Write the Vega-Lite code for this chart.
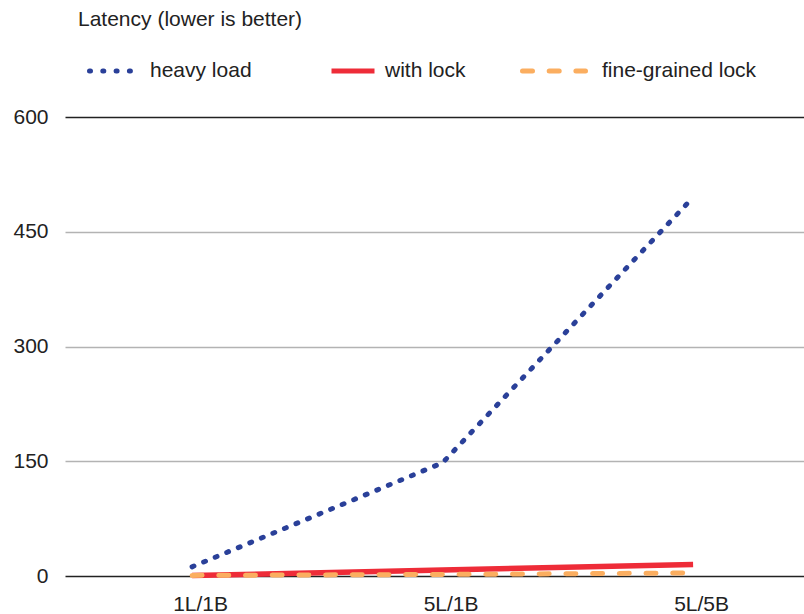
{
  "$schema": "https://vega.github.io/schema/vega-lite/v6.json",
  "width": 739,
  "height": 459,
  "autosize": {"type": "none"},
  "padding": {"left": 65, "top": 117, "right": 0, "bottom": 38},
  "background": "white",
  "title": {"text": "Latency (lower is better)", "anchor": "start", "frame": "group", "dx": 13, "offset": 7, "font": "Liberation Sans", "fontSize": 21, "fontWeight": "normal", "color": "#222"},
  "config": {"view": {"stroke": null}, "font": "Liberation Sans"},
  "data": {"values": [
    {"series": "heavy load", "cat": "1L/1B", "latency": 12},
    {"series": "heavy load", "cat": "5L/1B", "latency": 148},
    {"series": "heavy load", "cat": "5L/5B", "latency": 495},
    {"series": "with lock", "cat": "1L/1B", "latency": 0.5},
    {"series": "with lock", "cat": "5L/1B", "latency": 8},
    {"series": "with lock", "cat": "5L/5B", "latency": 15},
    {"series": "fine-grained lock", "cat": "1L/1B", "latency": 0.8},
    {"series": "fine-grained lock", "cat": "5L/1B", "latency": 2},
    {"series": "fine-grained lock", "cat": "5L/5B", "latency": 4}
  ]},
  "encoding": {
    "x": {"field": "cat", "type": "ordinal", "sort": null,
      "scale": {"type": "point", "padding": 0.475, "align": 0.534},
      "axis": {"title": null, "domain": false, "ticks": false, "grid": false, "labelAngle": 0, "labelPadding": 17, "labelOffset": 8, "labelFontSize": 21, "labelColor": "#222", "labelFont": "Liberation Sans"}},
    "y": {"field": "latency", "type": "quantitative",
      "scale": {"domain": [0, 600], "nice": false, "zero": true},
      "axis": {"title": null, "values": [0, 150, 300, 450, 600], "domain": false, "ticks": false, "labelPadding": 17, "labelFontSize": 21, "labelColor": "#222", "labelFont": "Liberation Sans",
        "gridColor": {"condition": {"test": "datum.value === 0 || datum.value === 600", "value": "#222"}, "value": "#b3b3b3"}, "gridWidth": 1.3}}
  },
  "layer": [
    {
      "transform": [{"filter": "datum.series === 'with lock'"}],
      "mark": {"type": "line", "strokeWidth": 5.5},
      "encoding": {"color": {"field": "series", "type": "nominal", "scale": {"domain": ["with lock"], "range": ["#EE2C38"]},
        "legend": {"orient": "none", "legendX": 264, "legendY": -70, "title": null, "symbolType": "stroke", "symbolSize": 1849, "symbolStrokeWidth": 5, "labelFontSize": 21, "labelColor": "#222", "labelFont": "Liberation Sans", "labelOffset": 8}}}
    },
    {
      "transform": [{"filter": "datum.series === 'fine-grained lock'"}],
      "mark": {"type": "line", "strokeWidth": 5, "strokeCap": "round", "strokeDash": [10, 16.7]},
      "encoding": {"color": {"field": "series", "type": "nominal", "scale": {"domain": ["fine-grained lock"], "range": ["#FBAE60"]},
        "legend": {"orient": "none", "legendX": 455, "legendY": -80, "title": null, "symbolType": "stroke", "symbolSize": 3969, "symbolStrokeWidth": 5, "symbolDash": [10, 16.7], "labelFontSize": 21, "labelColor": "#222", "labelFont": "Liberation Sans", "labelOffset": 14,
          "encode": {"symbols": {"update": {"strokeCap": {"value": "round"}}}}}}}
    },
    {
      "transform": [{"filter": "datum.series === 'heavy load'"}],
      "mark": {"type": "line", "strokeWidth": 5, "strokeCap": "round", "strokeDash": [2, 10.5]},
      "encoding": {"color": {"field": "series", "type": "nominal", "scale": {"domain": ["heavy load"], "range": ["#2A4099"]},
        "legend": {"orient": "none", "legendX": 22, "legendY": -70, "title": null, "symbolType": "stroke", "symbolSize": 1849, "symbolStrokeWidth": 5, "symbolDash": [1, 12.3], "labelFontSize": 21, "labelColor": "#222", "labelFont": "Liberation Sans", "labelOffset": 15,
          "encode": {"symbols": {"update": {"strokeCap": {"value": "round"}}}}}}}
    }
  ],
  "resolve": {"scale": {"color": "independent"}}
}
